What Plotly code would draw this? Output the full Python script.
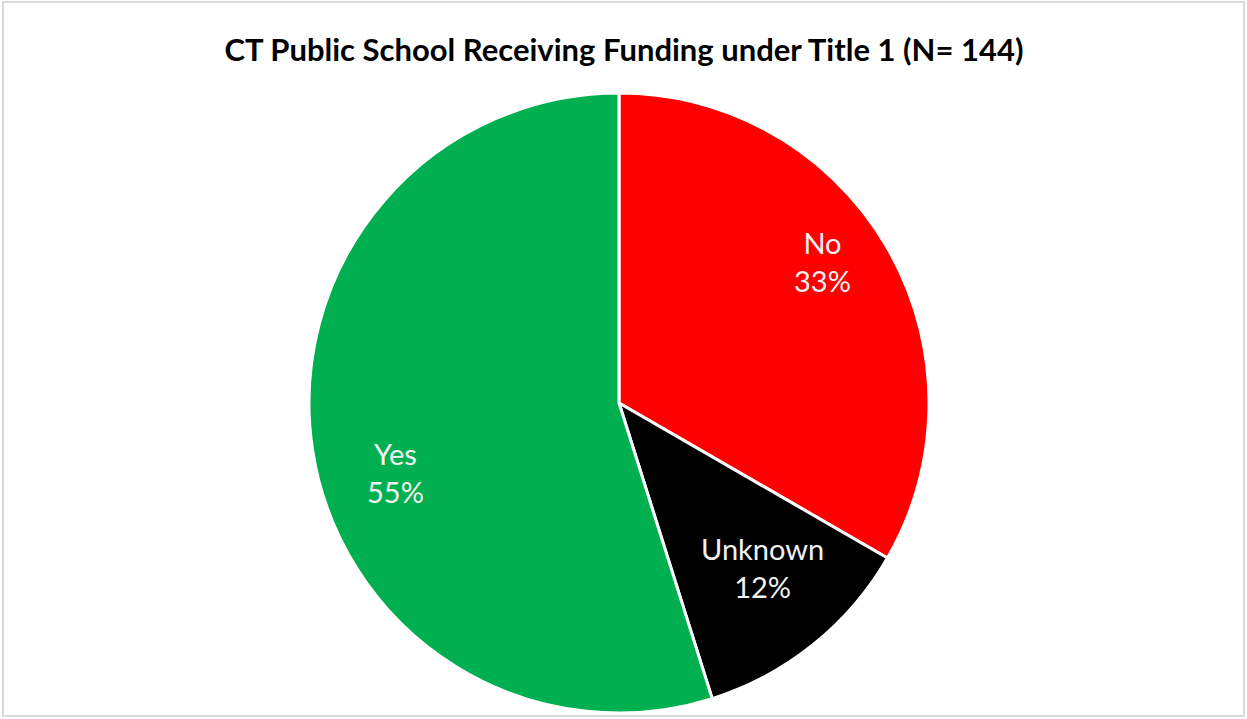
import plotly.graph_objects as go

# Title I funding status of CT public schools (N = 144)
categories = ["No", "Unknown", "Yes"]
counts = [48, 17, 79]
colors = ["#FF0000", "#000000", "#00B050"]

W, H = 1247, 719
cx, cy, r = 619, 403, 310  # pie centre and radius in pixels

fig = go.Figure()
fig.add_trace(go.Pie(
    labels=categories,
    values=counts,
    sort=False,
    direction="clockwise",
    rotation=0,
    marker=dict(colors=colors, line=dict(color="white", width=3)),
    textinfo="none",
    hoverinfo="label+percent",
    showlegend=False,
    domain=dict(x=[(cx - r) / W, (cx + r) / W], y=[1 - (cy + r) / H, 1 - (cy - r) / H]),
))

# data label anchor points (pixels) inside each slice
label_pos = {"No": (822, 261), "Unknown": (763, 567), "Yes": (395, 472)}
total = sum(counts)
for cat, v in zip(categories, counts):
    px, py = label_pos[cat]
    fig.add_annotation(
        x=px / W, y=1 - py / H, xref="paper", yref="paper",
        xanchor="center", yanchor="middle",
        text=f"{cat}<br>{round(v / total * 100)}%",
        showarrow=False,
        font=dict(family="Lato, Carlito, sans-serif", size=29, color="#F2F2F2"),
        align="center",
    )

fig.update_layout(
    width=W, height=H,
    margin=dict(l=0, r=0, t=0, b=0),
    paper_bgcolor="white",
    title=dict(
        text="<b>CT Public School Receiving Funding under Title 1 (N= 144)</b>",
        x=624 / W, xanchor="center", y=1 - 50 / H, yanchor="middle",
        font=dict(family="Lato, Carlito, sans-serif", size=31, color="#000000"),
    ),
    shapes=[dict(
        type="rect", xref="paper", yref="paper",
        x0=3 / W, x1=1 - 3 / W, y0=3 / H, y1=1 - 2 / H,
        line=dict(color="#D9D9D9", width=2), fillcolor="rgba(0,0,0,0)",
    )],
)

fig.write_html("out.html")
